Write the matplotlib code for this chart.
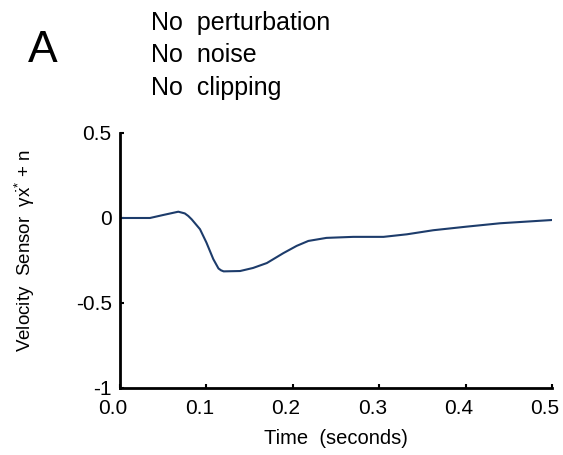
import matplotlib
matplotlib.use("Agg")
import matplotlib.pyplot as plt
from matplotlib.transforms import ScaledTranslation

plt.rcParams['font.family'] = ['Liberation Sans', 'DejaVu Sans']
plt.rcParams['mathtext.fontset'] = 'custom'
plt.rcParams['mathtext.rm'] = 'Liberation Sans'
plt.rcParams['mathtext.it'] = 'Liberation Sans'

# Velocity sensor trace (time in seconds, sensor value)
time_s = [0.0, 0.0347, 0.050, 0.0675, 0.075, 0.079, 0.083, 0.0926, 0.100,
          0.108, 0.114, 0.117, 0.120, 0.139, 0.154, 0.170, 0.189, 0.2045,
          0.218, 0.239, 0.270, 0.305, 0.332, 0.3626, 0.401, 0.440, 0.4745,
          0.4996]
velocity = [0.0, 0.0, 0.0176, 0.037, 0.027, 0.012, -0.008, -0.066, -0.144,
            -0.242, -0.297, -0.308, -0.314, -0.312, -0.294, -0.265, -0.207,
            -0.164, -0.135, -0.117, -0.111, -0.111, -0.096, -0.072, -0.051,
            -0.031, -0.020, -0.012]

x_ticks = [0.0, 0.1, 0.2, 0.3, 0.4, 0.5]
x_tick_labels = ["0.0", "0.1", "0.2", "0.3", "0.4", "0.5"]
y_ticks = [0.5, 0.0, -0.5, -1.0]
y_tick_labels = ["0.5", "0", "-0.5", "-1"]

fig = plt.figure(figsize=(5.63, 4.55), dpi=100)
ax = fig.add_axes([0.2131, 0.1473, 0.7674, 0.5604])

ax.plot(time_s, velocity, color='#1d3c6b', lw=1.5, solid_joinstyle='round')

ax.set_xlim(0, 0.5)
ax.set_ylim(-1, 0.5)
ax.set_xticks(x_ticks)
ax.set_xticklabels(x_tick_labels)
ax.set_yticks(y_ticks)
ax.set_yticklabels(y_tick_labels)
ax.tick_params(direction='in', length=3, width=1.5, labelsize=15)
ax.tick_params(axis='x', pad=8)
ax.tick_params(axis='y', pad=6)
for s in ['top', 'right']:
    ax.spines[s].set_visible(False)
for s in ['left', 'bottom']:
    ax.spines[s].set_linewidth(2.0)

# nudge the time tick labels slightly left of their ticks
shift = ScaledTranslation(-0.07, 0, fig.dpi_scale_trans)
for lbl in ax.get_xticklabels():
    lbl.set_transform(lbl.get_transform() + shift)

ax.set_xlabel("Time  (seconds)", fontsize=14.5, labelpad=8)
ax.set_ylabel(r"Velocity  Sensor  $\gamma\dot{\mathrm{x}}^{*}$ + n", fontsize=13.5)
ax.yaxis.set_label_coords(-0.192, 0.54)

fig.text(0.050, 0.864, "A", fontsize=32, ha='left', va='baseline')
fig.text(0.268, 0.935, "No  perturbation", fontsize=18, ha='left', va='baseline')
fig.text(0.268, 0.863, "No  noise", fontsize=18, ha='left', va='baseline')
fig.text(0.268, 0.791, "No  clipping", fontsize=18, ha='left', va='baseline')

fig.savefig("out.png", dpi=100)
